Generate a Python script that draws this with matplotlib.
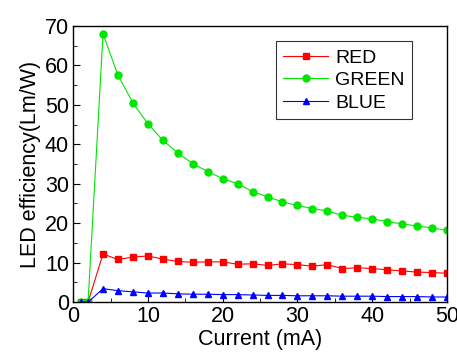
import matplotlib
matplotlib.use("Agg")
import matplotlib.pyplot as plt
from matplotlib.ticker import MultipleLocator

plt.rcParams['font.family'] = ['Liberation Sans', 'DejaVu Sans']

current = [1, 2, 4, 6, 8, 10, 12, 14, 16, 18, 20, 22, 24, 26, 28, 30,
           32, 34, 36, 38, 40, 42, 44, 46, 48, 50]
red = [0, 0, 12.2, 10.8, 11.4, 11.7, 10.9, 10.3, 10.1, 10.2, 10.2, 9.6, 9.7,
       9.3, 9.7, 9.5, 9.1, 9.5, 8.5, 8.7, 8.5, 8.2, 7.9, 7.6, 7.5, 7.3]
green = [0, 0, 68.0, 57.5, 50.5, 45.2, 41.0, 37.8, 35.1, 33.1, 31.3, 30.0,
         28.0, 26.7, 25.4, 24.5, 23.7, 23.1, 22.0, 21.5, 21.1, 20.4, 19.8,
         19.3, 18.8, 18.2]
blue = [0, 0, 3.4, 2.9, 2.6, 2.3, 2.3, 2.1, 2.0, 2.0, 1.9, 1.9, 1.8, 1.7,
        1.7, 1.6, 1.6, 1.6, 1.5, 1.5, 1.5, 1.4, 1.4, 1.4, 1.3, 1.3]

fig = plt.figure(figsize=(4.57, 3.55), dpi=100)
ax = fig.add_axes([0.160, 0.149, 0.818, 0.778])

ax.plot(current, red, color='#ff0000', marker='s', markersize=4.5, lw=0.8, label='RED')
ax.plot(current, green, color='#00e600', marker='o', markersize=5, lw=0.8, label='GREEN')
ax.plot(current, blue, color='#0000ff', marker='^', markersize=5, lw=0.8, label='BLUE')

ax.set_xlim(0, 50)
ax.set_ylim(0, 70)
ax.xaxis.set_major_locator(MultipleLocator(10))
ax.xaxis.set_minor_locator(MultipleLocator(5))
ax.yaxis.set_major_locator(MultipleLocator(10))
ax.yaxis.set_minor_locator(MultipleLocator(5))
ax.tick_params(which='both', direction='in', top=False, right=False, labelsize=15.5, pad=3)
ax.tick_params(which='major', length=5)
ax.tick_params(which='minor', length=3)
for s in ax.spines.values():
    s.set_linewidth(1.0)

ax.set_xlabel('Current (mA)', fontsize=15.5, labelpad=1)
ax.set_ylabel('LED efficiency(Lm/W)', fontsize=15.5, labelpad=3)

leg = ax.legend(loc='upper right', bbox_to_anchor=(0.907, 0.944), borderaxespad=0,
                fontsize=14, fancybox=False, edgecolor='black', handlelength=2.3,
                handletextpad=0.35, borderpad=0.4, labelspacing=0.25)
leg.get_frame().set_linewidth(0.8)

plt.savefig('out.png', dpi=100)
